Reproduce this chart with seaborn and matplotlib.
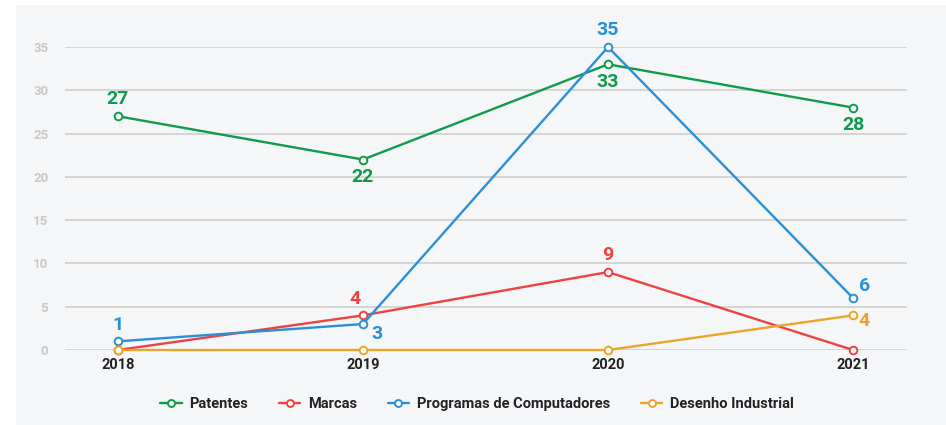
import pandas as pd
import matplotlib.pyplot as plt
import seaborn as sns
from matplotlib.patches import Rectangle
from matplotlib.lines import Line2D

# dados
anos = ['2018', '2019', '2020', '2021']
patentes = [27, 22, 33, 28]
marcas = [0, 4, 9, 0]
programas = [1, 3, 35, 6]
desenho = [0, 0, 0, 4]

series = ['Patentes', 'Marcas', 'Programas de Computadores', 'Desenho Industrial']
cores = ['#109a4b', '#ec4242', '#2b8fd7', '#eaa42a']

df = pd.DataFrame({
    'ano': list(range(4)) * 4,
    'valor': patentes + marcas + programas + desenho,
    'serie': [s for s in series for _ in anos],
})

sns.set_style('white')
plt.rcParams['font.family'] = ['Roboto', 'DejaVu Sans']

fig = plt.figure(figsize=(9.46, 4.25), dpi=100)
fig.patch.set_facecolor('white')
fig.patches.append(Rectangle((16 / 946, 0), 1, 420 / 425, transform=fig.transFigure,
                             facecolor='#f5f6f8', edgecolor='none', zorder=-10))

ax = fig.add_axes([65 / 946, 75 / 425, 842 / 946, 303 / 425])
ax.set_facecolor('none')

sns.lineplot(data=df, x='ano', y='valor', hue='serie', palette=cores,
             hue_order=series, ax=ax, linewidth=1.7, marker='o', markersize=5.5,
             markerfacecolor='white', markeredgewidth=1.4, legend=False, clip_on=False)
for ln, c in zip(ax.lines, cores):
    ln.set_markeredgecolor(c)
    ln.set_zorder(3)

ax.set_xlim(-0.216, 3.22)
ax.set_ylim(0, 35)
ax.set_yticks(range(0, 40, 5))
ax.yaxis.grid(True, color='#cfcfcf', linewidth=1.2)
ax.set_axisbelow(True)
for s in ax.spines.values():
    s.set_visible(False)
ax.set_xticks(range(4))
ax.set_xticklabels(anos, fontsize=10.5, fontweight='bold', color='#222222')
ax.tick_params(axis='x', length=0, pad=6)
ax.tick_params(axis='y', length=0, pad=12, labelsize=9.5, labelcolor='#c8c8c8')
for t in ax.get_yticklabels():
    t.set_fontweight('bold')
ax.set_xlabel('')
ax.set_ylabel('')

# rótulos: (serie, indice, dx, dy, ha, va)
rotulos = [
    (0, 0, 0, 6, 'center', 'bottom'), (0, 1, 0, -6, 'center', 'top'),
    (0, 2, 0, -6, 'center', 'top'), (0, 3, 0, -6, 'center', 'top'),
    (1, 1, -6, 5, 'center', 'bottom'), (1, 2, 0, 6, 'center', 'bottom'),
    (2, 0, 0, 5, 'center', 'bottom'), (2, 1, 6, -1, 'left', 'top'),
    (2, 2, 0, 6, 'center', 'bottom'), (2, 3, 4, 2, 'left', 'bottom'),
    (3, 3, 4, -4, 'left', 'center'),
]
valores = [patentes, marcas, programas, desenho]
for si, i, dx, dy, ha, va in rotulos:
    v = valores[si][i]
    ax.annotate(str(v), (i, v), xytext=(dx, dy), textcoords='offset points',
                ha=ha, va=va, fontsize=14, fontweight='bold', color=cores[si])

handles = [Line2D([], [], color=c, linewidth=1.7, marker='o', markersize=5,
                  markerfacecolor='white', markeredgecolor=c, markeredgewidth=1.4)
           for c in cores]
leg = fig.legend(handles, series, loc='center', bbox_to_anchor=(0.504, 21 / 425), ncol=4,
                 frameon=False, handlelength=1.5, handletextpad=0.5, columnspacing=2.1,
                 prop={'weight': 'bold', 'size': 10.5})
for t in leg.get_texts():
    t.set_color('#222222')

plt.savefig('out.png', dpi=100)
